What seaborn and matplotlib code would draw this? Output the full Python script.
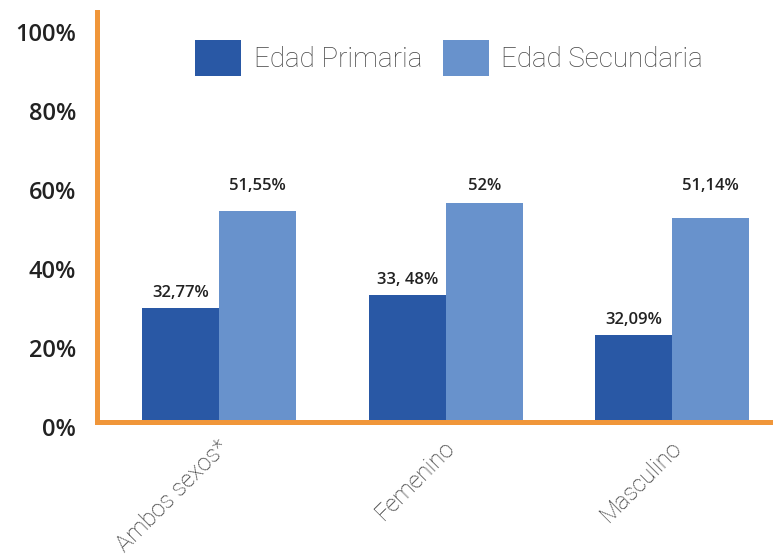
import matplotlib
matplotlib.use("Agg")
import matplotlib.pyplot as plt
import matplotlib.transforms as mtransforms
import pandas as pd
import seaborn as sns

# --- data (bar heights as drawn, labels as printed) ---
GROUPS = ["Ambos sexos*", "Femenino", "Masculino"]
SERIES = ["Edad Primaria", "Edad Secundaria"]
PRIMARIA = [28.8, 32.1, 22.1]
SECUNDARIA = [53.4, 55.5, 51.8]
PRIMARIA_LABELS = ["32,77%", "33, 48%", "32,09%"]
SECUNDARIA_LABELS = ["51,55%", "52%", "51,14%"]
Y_TICKS = [0, 20, 40, 60, 80, 100]
Y_TICK_LABELS = ["0%", "20%", "40%", "60%", "80%", "100%"]

COLORS = ["#2958A5", "#6892CC"]
ORANGE = "#F0963A"
TEXT_DARK = "#222222"
THIN_FONT = ["Roboto", "DejaVu Sans"]


def main():
    sns.set_theme(style="white")
    plt.rcParams["font.family"] = ["Lato", "DejaVu Sans"]

    df = pd.DataFrame({
        "grupo": GROUPS * 2,
        "valor": PRIMARIA + SECUNDARIA,
        "serie": [SERIES[0]] * len(GROUPS) + [SERIES[1]] * len(GROUPS),
    })

    fig = plt.figure(figsize=(7.73, 5.56), dpi=100)
    ax = fig.add_axes([0.1255, 0.241, 0.8745, 0.737])
    sns.barplot(data=df, x="grupo", y="valor", hue="serie", palette=COLORS,
                width=0.68, saturation=1, linewidth=0, ax=ax)

    ax.set_xlim(-0.54, 2.446)
    ax.set_ylim(0, 103.8)
    ax.set_xlabel(""); ax.set_ylabel("")

    for side in ["top", "right"]:
        ax.spines[side].set_visible(False)
    for side in ["left", "bottom"]:
        ax.spines[side].set_color(ORANGE)
        ax.spines[side].set_linewidth(3.6)
        ax.spines[side].set_capstyle("projecting")

    # y ticks
    ax.set_yticks(Y_TICKS)
    ax.set_yticklabels(Y_TICK_LABELS, fontsize=17, fontweight="semibold",
                       color=TEXT_DARK, family=["Open Sans", "DejaVu Sans"])
    ax.tick_params(axis="y", length=0, pad=15)
    shift = mtransforms.ScaledTranslation(0, -5 / 100, fig.dpi_scale_trans)
    for lab in ax.get_yticklabels():
        lab.set_transform(lab.get_transform() + shift)

    # x ticks
    ax.set_xticks(range(len(GROUPS)))
    ax.set_xticklabels(GROUPS, rotation=45, ha="right", va="center",
                       rotation_mode="anchor", fontsize=17, fontweight="light",
                       color="#333333", family=THIN_FONT)
    ax.tick_params(axis="x", length=0, pad=16)
    xshift = mtransforms.ScaledTranslation(6 / 100, 0, fig.dpi_scale_trans)
    for lab in ax.get_xticklabels():
        lab.set_transform(lab.get_transform() + xshift)

    # value labels
    label_kw = dict(ha="center", va="center", fontsize=12, fontweight="semibold",
                    color=TEXT_DARK, family=["Open Sans", "DejaVu Sans"])
    for bar, val, txt in zip(ax.containers[0], PRIMARIA, PRIMARIA_LABELS):
        ax.text(bar.get_x() + bar.get_width() / 2, val + 3.8, txt, **label_kw)
    top_y = max(SECUNDARIA) + 4.3
    for bar, txt in zip(ax.containers[1], SECUNDARIA_LABELS):
        ax.text(bar.get_x() + bar.get_width() / 2, top_y, txt, **label_kw)

    # legend
    handles, labels = ax.get_legend_handles_labels()
    ax.legend(handles, labels, loc="upper center", bbox_to_anchor=(0.521, 0.98),
              ncol=2, frameon=False, handlelength=1.65, handleheight=1.6,
              handletextpad=0.45, columnspacing=0.75, borderpad=0.2,
              prop=dict(family=THIN_FONT, weight="light", size=20),
              labelcolor="#444444")

    fig.savefig("out.png", dpi=100)
    plt.close(fig)


if __name__ == "__main__":
    main()
